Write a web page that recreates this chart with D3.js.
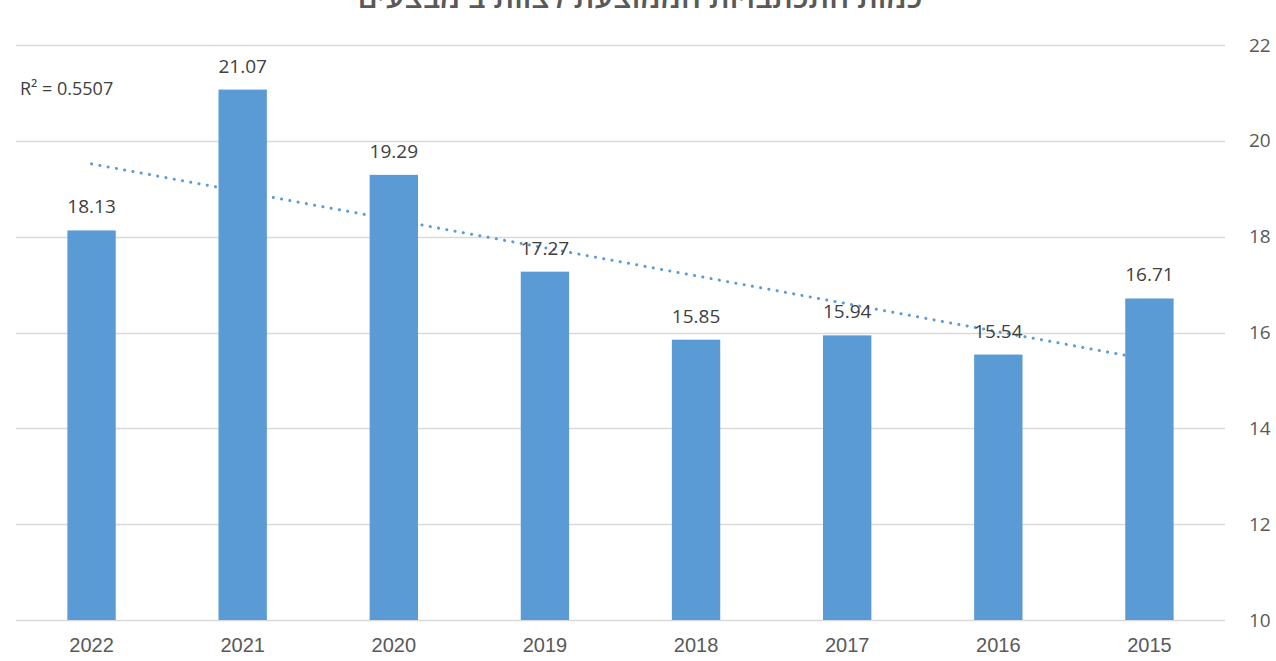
<!DOCTYPE html>
<html>
<head>
<meta charset="utf-8">
<script src="https://cdn.jsdelivr.net/npm/d3@7"></script>
<style>
  html, body { margin: 0; padding: 0; background: #fff; overflow: hidden; }
</style>
</head>
<body>
<div id="chart"></div>
<script>
// data, in the order shown (right-to-left axis, newest first)
const years = ['2022', '2021', '2020', '2019', '2018', '2017', '2016', '2015'];
const values = [18.13, 21.07, 19.29, 17.27, 15.85, 15.94, 15.54, 16.71];
const yTicks = [10, 12, 14, 16, 18, 20, 22];
const title = 'כמות התכתבויות הממוצעת לצוות ב מבצעים';
const r2Label = 'R² = 0.5507';

const width = 1276, height = 661;
const margin = { top: 45, right: 51, bottom: 41, left: 16 };

const svg = d3.select('#chart').append('svg')
  .attr('width', width)
  .attr('height', height);

const x = d3.scaleBand()
  .domain(years)
  .range([margin.left, width - margin.right])
  .paddingInner(0.68)
  .paddingOuter(0.34);

const y = d3.scaleLinear()
  .domain([10, 22])
  .range([height - margin.bottom, margin.top]);

// gridlines
svg.append('g')
  .selectAll('line')
  .data(yTicks)
  .enter()
  .append('line')
  .attr('x1', margin.left)
  .attr('x2', width - margin.right)
  .attr('y1', d => Math.round(y(d)) + 0.5)
  .attr('y2', d => Math.round(y(d)) + 0.5)
  .attr('stroke', '#d9d9d9')
  .attr('stroke-width', 1.3);

// y axis on the right
const yAxis = svg.append('g')
  .attr('transform', `translate(${width - margin.right + 24}, 0)`)
  .call(d3.axisRight(y).tickValues(yTicks).tickSize(0).tickPadding(0));
yAxis.select('.domain').remove();
yAxis.selectAll('text')
  .attr('fill', '#595959')
  .style('font-family', '"Open Sans", "Noto Sans", sans-serif')
  .style('font-size', '19px');

// x axis
const xAxis = svg.append('g')
  .attr('transform', `translate(0, ${height - margin.bottom})`)
  .call(d3.axisBottom(x).tickSize(0).tickPadding(18));
xAxis.select('.domain').remove();
xAxis.selectAll('text')
  .attr('fill', '#595959')
  .style('font-family', '"Liberation Sans", Arial, sans-serif')
  .style('font-size', '20px');

// linear trendline (least squares over category index)
const n = values.length;
const idx = d3.range(1, n + 1);
const mx = d3.mean(idx), my = d3.mean(values);
const sxy = d3.sum(idx, (d, i) => (d - mx) * (values[i] - my));
const sxx = d3.sum(idx, d => (d - mx) * (d - mx));
const slope = sxy / sxx;
const intercept = my - slope * mx;
const trend = [
  { year: years[0], v: intercept + slope * 1 },
  { year: years[n - 1], v: intercept + slope * n }
];

svg.append('path')
  .datum(trend)
  .attr('d', d3.line()
    .x(d => x(d.year) + x.bandwidth() / 2)
    .y(d => y(d.v)))
  .attr('fill', 'none')
  .attr('stroke', '#5b9bd5')
  .attr('stroke-width', 3)
  .attr('stroke-linecap', 'round')
  .attr('stroke-dasharray', '0.1 8.3');

// bars
svg.append('g')
  .selectAll('rect')
  .data(values)
  .enter()
  .append('rect')
  .attr('x', (d, i) => x(years[i]))
  .attr('y', d => y(d))
  .attr('width', x.bandwidth())
  .attr('height', d => y(10) - y(d))
  .attr('fill', '#5b9bd5');

// value labels
svg.append('g')
  .selectAll('text')
  .data(values)
  .enter()
  .append('text')
  .attr('x', (d, i) => x(years[i]) + x.bandwidth() / 2)
  .attr('y', d => y(d) - 17)
  .attr('text-anchor', 'middle')
  .attr('fill', '#404040')
  .style('font-family', '"Open Sans", "Noto Sans", sans-serif')
  .style('font-size', '19px')
  .text(d => d.toFixed(2));

// R² label
svg.append('text')
  .attr('x', 20)
  .attr('y', 95)
  .attr('fill', '#404040')
  .style('font-family', '"Open Sans", "Noto Sans", sans-serif')
  .style('font-size', '18px')
  .text(r2Label);

// title, clipped at the top of the frame as in the source
svg.append('text')
  .attr('x', 640)
  .attr('y', 8)
  .attr('text-anchor', 'middle')
  .attr('direction', 'rtl')
  .attr('fill', '#595959')
  .style('font-family', '"Open Sans", "Noto Sans", sans-serif')
  .style('font-size', '31px')
  .style('font-weight', 600)
  .text(title);
</script>
</body>
</html>
